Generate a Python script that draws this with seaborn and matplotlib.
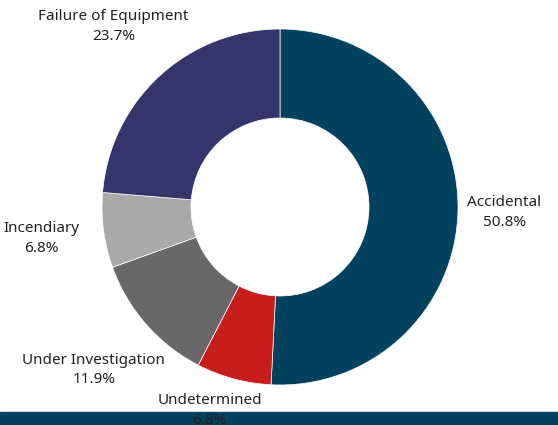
import numpy as np
import pandas as pd
import matplotlib
matplotlib.use("Agg")
import matplotlib.pyplot as plt
import seaborn as sns

categories = ["Accidental", "Undetermined", "Under Investigation", "Incendiary", "Failure of Equipment"]
shares = [50.8, 6.8, 11.9, 6.8, 23.7]
colors = ["#03425f", "#c81d1d", "#686868", "#a9a9a9", "#33356b"]

# label placement (radius multiple, angle nudge in degrees), tuned to the reference
label_dist = [1.26, 1.21, 1.39, 1.35, 1.38]
label_nudge = [0, -4, 0, 0, 0]

sns.set_theme(style="white")
plt.rcParams["font.family"] = ["Noto Sans", "DejaVu Sans"]

W, H = 558, 425
fig = plt.figure(figsize=(W / 100, H / 100), dpi=100)
ax = fig.add_axes([0, 0, 1, 1])

cx, cy, r = 280, 218, 178
wedges, _ = ax.pie(
    shares,
    colors=colors,
    startangle=90,
    counterclock=False,
    center=(cx, cy),
    radius=r,
    wedgeprops={"width": r * 0.5, "edgecolor": "white", "linewidth": 0.5},
)

# bottom band
ax.axhspan(0, 13, color="#03425f", zorder=1)

for w, name, val, d, nudge in zip(wedges, categories, shares, label_dist, label_nudge):
    ang = np.deg2rad((w.theta1 + w.theta2) / 2 + nudge)
    x = cx + r * d * np.cos(ang)
    y = cy + r * d * np.sin(ang)
    ax.text(x, y, f"{name}\n{val:.1f}%", ha="center", va="center",
            fontsize=11, color="#222222", linespacing=1.4, zorder=5)

ax.set_xlim(0, W)
ax.set_ylim(0, H)
ax.set_aspect("equal")
ax.axis("off")

fig.savefig("out.png", dpi=100)
